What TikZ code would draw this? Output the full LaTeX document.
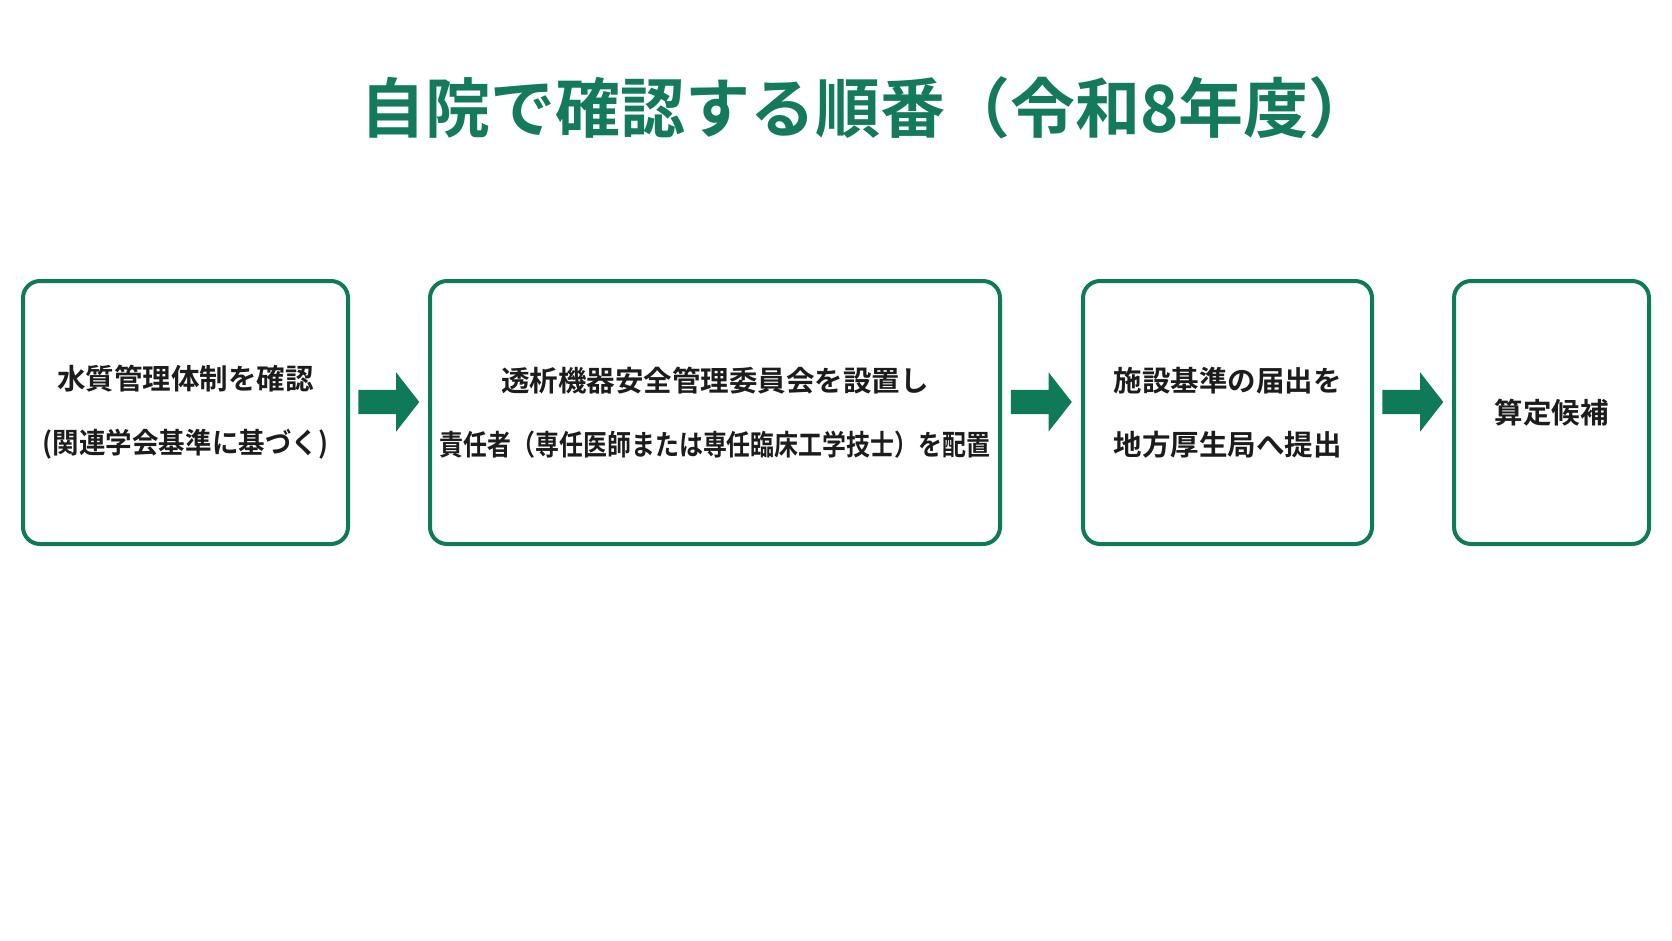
\documentclass[tikz,border=0pt]{standalone}
\usepackage{fontspec}
\usepackage{graphicx}
\setmainfont{Noto Sans CJK JP}[BoldFont={Noto Sans CJK JP Bold}]
\usetikzlibrary{shapes.arrows,calc}
\definecolor{mgreen}{HTML}{0F7A58}
\definecolor{tgreen}{HTML}{137B5B}
\definecolor{txt}{HTML}{1C1C1C}
\tikzset{
  stepbox/.style={draw=mgreen, line width=4pt, rounded corners=17pt, fill=white,
    align=center, text=txt, font=\bfseries\fontsize{28.5}{64}\selectfont,
    minimum height=263pt, inner sep=0pt},
  blockarrow/.style={single arrow, fill=mgreen, draw=none, inner sep=12pt,
    minimum height=61pt, single arrow head extend=17.5pt, single arrow tip angle=104,
    anchor=center}
}
\begin{document}
\begin{tikzpicture}[x=1pt,y=-1pt]
\useasboundingbox[fill=white] (0,0) rectangle (1672,941);
\node[text=tgreen, font=\bfseries\fontsize{65}{70}\selectfont] (title) at (867,108) {自院で確認する順番（令和8年度）};
\node[stepbox, minimum width=325pt] (b1) at (185.5,412.5) {水質管理体制を確認\\\scalebox{0.93}[1]{(関連学会基準に基づく)}};
\node[stepbox, minimum width=570pt] (b2) at (715,412.5) {透析機器安全管理委員会を設置し\\\scalebox{0.84}[1]{責任者（専任医師または専任臨床工学技士）を配置}};
\node[stepbox, minimum width=289pt] (b3) at (1227.5,412.5) {施設基準の届出を\\地方厚生局へ提出};
\node[stepbox, minimum width=195pt] (b4) at (1551.5,412.5) {算定候補};
\node[blockarrow] (a1) at ([xshift=-5pt,yshift=10.5pt]$(b1.east)!0.5!(b2.west)$) {};
\node[blockarrow] (a2) at ([xshift=-5pt,yshift=10.5pt]$(b2.east)!0.5!(b3.west)$) {};
\node[blockarrow] (a3) at ([xshift=-5pt,yshift=10.5pt]$(b3.east)!0.5!(b4.west)$) {};
\end{tikzpicture}
\end{document}
